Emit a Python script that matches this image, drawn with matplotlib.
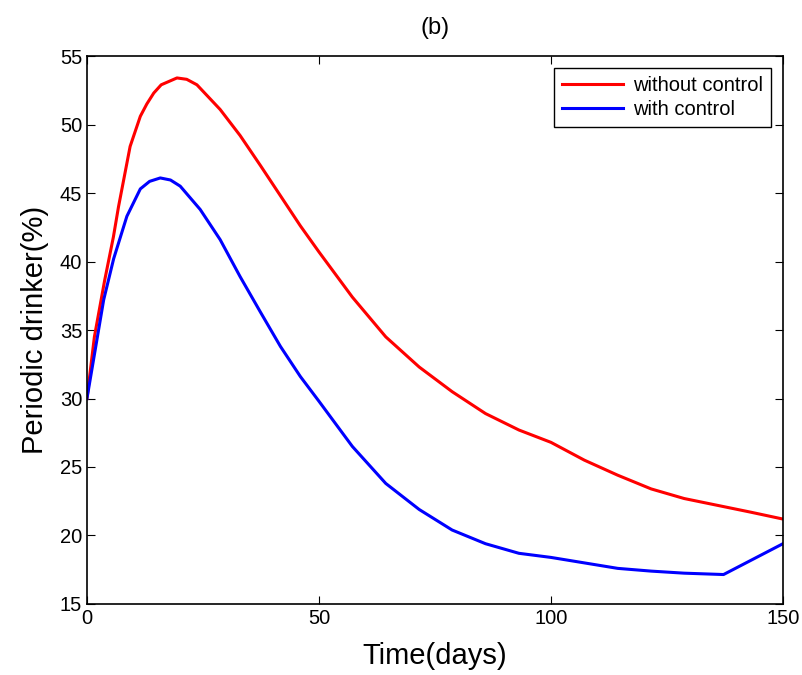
import matplotlib
matplotlib.use("Agg")
import matplotlib.pyplot as plt

# values
t_without = [0, 1.6, 3.8, 5.7, 6.8, 9.3, 11.5, 12.9, 14.4, 16.0, 19.4, 21.5, 23.7, 28.7, 33.0, 37.4, 41.7,
             46.0, 50.0, 57.2, 64.4, 71.6, 78.7, 85.9, 93.1, 100, 107.2, 114.4, 121.6, 128.7, 135.9,
             143.1, 150]
without_control = [30, 34.5, 38.6, 41.8, 44.0, 48.4, 50.6, 51.5, 52.3, 52.9, 53.4, 53.3, 52.9, 51.1, 49.2,
                   47.0, 44.8, 42.6, 40.7, 37.4, 34.5, 32.3, 30.5, 28.9, 27.7, 26.8, 25.5, 24.4, 23.4,
                   22.7, 22.2, 21.7, 21.2]

t_with = [0, 1.8, 3.6, 5.75, 8.6, 11.5, 13.5, 15.8, 18.0, 20.1, 24.4, 28.7, 33.0, 37.4, 41.7, 46.0,
          50.0, 57.2, 64.4, 71.6, 78.7, 85.9, 93.1, 100, 107.2, 114.4, 121.6, 128.7, 137.2, 150]
with_control = [30, 33.6, 37.2, 40.2, 43.3, 45.3, 45.85, 46.1, 45.95, 45.5, 43.8, 41.6, 38.9, 36.3, 33.8,
                31.6, 29.8, 26.5, 23.8, 21.9, 20.4, 19.4, 18.7, 18.4, 18.0, 17.6, 17.4, 17.25, 17.15, 19.4]

plt.rcParams['font.family'] = ['Liberation Sans', 'DejaVu Sans']

fig = plt.figure(figsize=(8.03, 6.75), dpi=100)
ax = fig.add_axes([0.1083, 0.1052, 0.8667, 0.8118])

ax.plot(t_without, without_control, color='red', lw=2.2, label='without control')
ax.plot(t_with, with_control, color='blue', lw=2.2, label='with control')

ax.set_xlim(0, 150)
ax.set_ylim(15, 55)
ax.set_xticks([0, 50, 100, 150])
ax.set_yticks(range(15, 56, 5))
ax.tick_params(direction='in', top=True, right=True, length=6, width=0.8, labelsize=14.5)
for s in ax.spines.values():
    s.set_linewidth(1.2)

ax.set_xlabel("Time(days)", fontsize=21, labelpad=10)
ax.set_ylabel("Periodic drinker(%)", fontsize=21, labelpad=8)
ax.set_title("(b)", fontsize=17, pad=16)

leg = ax.legend(loc='upper right', fontsize=14.5, frameon=True, fancybox=False,
                edgecolor='black', framealpha=1, borderaxespad=0.6,
                handlelength=3.0, handletextpad=0.5, labelspacing=0.25, borderpad=0.4)
leg.get_frame().set_linewidth(1.0)

plt.savefig("out.png", dpi=100)
